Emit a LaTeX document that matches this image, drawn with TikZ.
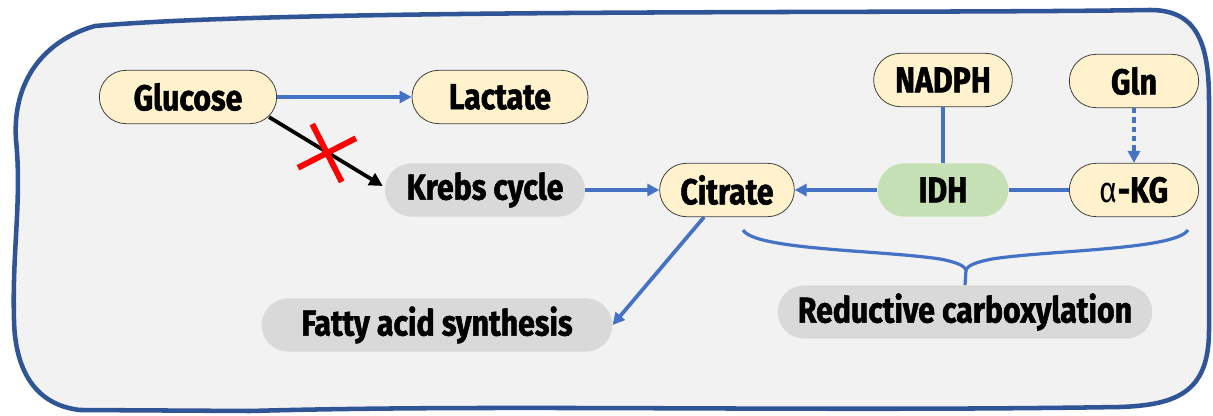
\documentclass[tikz,border=0pt]{standalone}
\usepackage{fontspec}
\newfontfamily\pillfont{Fira Sans}[FakeStretch=0.84, BoldFeatures={FakeBold=1.5}]
\usepackage{xcolor}
\definecolor{cellline}{RGB}{47,85,151}
\definecolor{cellfill}{RGB}{242,242,242}
\definecolor{flowblue}{RGB}{68,114,196}
\definecolor{metab}{RGB}{255,242,204}
\definecolor{pathway}{RGB}{217,217,217}
\definecolor{enzyme}{RGB}{197,224,180}
\usepackage{tikz}
\usetikzlibrary{positioning, arrows.meta, shapes.misc, calc}

\begin{document}
\begin{tikzpicture}[x=0.75pt, y=-0.75pt,
  pill/.style={rectangle, rounded corners=20pt, minimum height=40pt,
               font=\pillfont\fontsize{27}{32}\bfseries\selectfont, inner sep=0pt},
  metabolite/.style={pill, draw=black!75, line width=0.6pt, fill=metab},
  process/.style={pill, fill=pathway},
  idhbox/.style={pill, fill=enzyme},
  flow/.style={-{Triangle[length=9pt, width=9pt]}, line width=2.8pt, color=flowblue},
  link/.style={line width=2.8pt, color=flowblue},
  maybe/.style={flow, dash pattern=on 4pt off 3pt},
  blocked/.style={-{Triangle[length=10pt, width=10pt]}, line width=2.8pt, color=black},
]
  \useasboundingbox (0,0) rectangle (1213,416);

  % Cell outline
  \draw[line width=3.4pt, color=cellline, fill=cellfill]
    (95,26) .. controls (300,8) and (900,14) .. (1150,10)
    .. controls (1195,10) and (1209,40) .. (1209,100)
    -- (1209,330)
    .. controls (1209,390) and (1180,405) .. (1120,407)
    .. controls (800,412) and (500,404) .. (250,411)
    -- (80,410)
    .. controls (35,405) and (15,370) .. (14,320)
    .. controls (12,250) and (22,200) .. (16,140)
    .. controls (12,80) and (45,40) .. (95,26) -- cycle;

  % Metabolites
  \node[metabolite, minimum width=133pt] (glucose) at (188,97) {Glucose};
  \node[metabolite, minimum width=132pt] (lactate) at (500,97) {Lactate};
  \node[metabolite, minimum width=101pt] (citrate) at (727,190) {Citrate};
  \node[metabolite, minimum width=104pt] (nadph) at (943,80) {NADPH};
  \node[metabolite, minimum width=97pt] (gln) at (1134,81) {Gln};
  \node[metabolite, minimum width=97pt] (akg) at (1134,190) {{\fontseries{m}\selectfont α}-KG};

  % Pathways and enzyme
  \node[process, minimum width=150pt] (krebs) at (485,190) {Krebs cycle};
  \node[idhbox, minimum width=98pt] (idh) at (943,190) {IDH};
  \node[process, minimum width=263pt] (fatty) at (437,325) {Fatty acid synthesis};
  \node[process, minimum width=281pt] (reductive) at (965,312) {Reductive carboxylation};

  % Fluxes
  \draw[flow] (glucose) -- (lactate);
  \draw[blocked] ($(glucose.south east)+(-8,-7)$) -- ($(krebs.west)+(-2,-4)$);
  \node[cross out, draw=red, line width=4.4pt, minimum size=30pt, inner sep=0pt, rotate=-18]
    (block) at (327,153) {};
  \draw[flow] (krebs) -- (citrate);
  \draw[flow] (idh) -- (citrate);
  \draw[link] (nadph) -- (idh);
  \draw[link] (idh) -- (akg);
  \draw[maybe] (gln) -- (akg);
  \draw[flow] (citrate) -- (fatty.east);

  % Brace over reductive carboxylation
  \coordinate (braceL) at (743,230);
  \coordinate (braceR) at (1188,230);
  \coordinate (braceM) at (966,270);
  \draw[link, line width=2.4pt] (braceL) .. controls (755,250) and (880,250) .. (940,259)
    .. controls (955,262) and (964,265) .. (braceM)
    .. controls (968,265) and (977,262) .. (992,259)
    .. controls (1050,250) and (1175,250) .. (braceR);
  \draw[link, line width=2.4pt] (braceM) -- (reductive.north);
\end{tikzpicture}
\end{document}
